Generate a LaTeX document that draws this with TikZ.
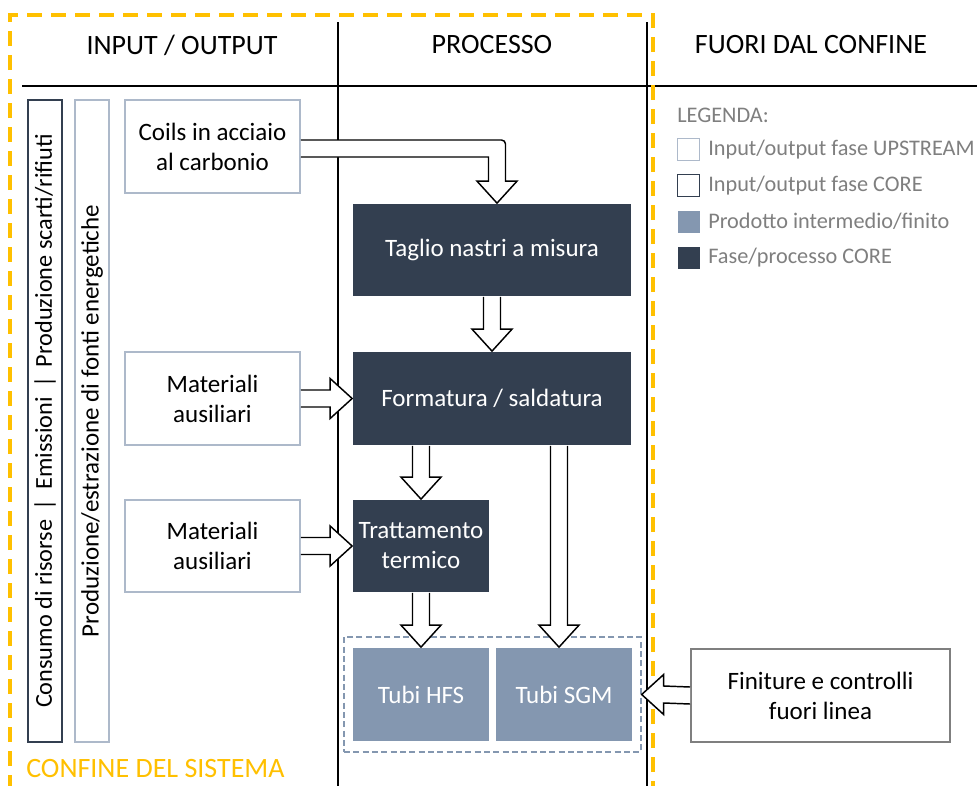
\documentclass[tikz,border=0pt]{standalone}
\usepackage{fontspec}
\setmainfont{Carlito}
\usetikzlibrary{calc}
\definecolor{navy}{HTML}{333F50}
\definecolor{steel}{HTML}{8497B0}
\definecolor{pale}{HTML}{ADB9CA}
\definecolor{gold}{HTML}{FFC000}
\definecolor{greytxt}{HTML}{7F7F7F}
\tikzset{
  wh/.style 2 args={minimum width=#1*0.75pt, minimum height=#2*0.75pt},
  basebox/.style={rectangle, inner sep=0pt, align=center, line width=1.3pt},
  upbox/.style={basebox, draw=pale, fill=white, text=black},
  corebox/.style={basebox, draw=navy, fill=white, text=black},
  procbox/.style={basebox, fill=navy, text=white},
  prodbox/.style={basebox, fill=steel, text=white},
  outbox/.style={basebox, draw=greytxt, fill=white, text=black},
  blk/.style={draw=black, fill=white, line width=1.1pt, line join=miter},
  hdr/.style={font=\fontsize{21}{25}\selectfont},
  leg/.style={font=\fontsize{16.7}{20}\selectfont, text=greytxt, anchor=west, inner sep=0pt},
  legsq/.style={rectangle, inner sep=0pt, minimum size=22*0.75pt, line width=1.3pt},
}
\newcommand\arrdown[2]{\draw[blk] ($(#1)+(-8.5,0)$) -- ($(#2)+(-8.5,-22)$) -- ($(#2)+(-20,-22)$) -- (#2) -- ($(#2)+(20,-22)$) -- ($(#2)+(8.5,-22)$) -- ($(#1)+(8.5,0)$);}
\newcommand\arrright[2]{\draw[blk] ($(#1)+(0,-8.5)$) -- ($(#2)+(-22,-8.5)$) -- ($(#2)+(-22,-20)$) -- (#2) -- ($(#2)+(-22,20)$) -- ($(#2)+(-22,8.5)$) -- ($(#1)+(0,8.5)$);}
\newcommand\arrleft[2]{\draw[blk] ($(#1)+(0,-8.5)$) -- ($(#2)+(22,-8.5)$) -- ($(#2)+(22,-20)$) -- (#2) -- ($(#2)+(22,20)$) -- ($(#2)+(22,8.5)$) -- ($(#1)+(0,8.5)$);}
\begin{document}
\begin{tikzpicture}[x=0.75pt,y=-0.75pt,font=\fontsize{18.75}{22.5}\selectfont]
\useasboundingbox[fill=white] (0,0) rectangle (977,785);

% frame lines
\draw[line width=1.3pt] (22,86) -- (977,86);
\draw[line width=1.3pt] (338,22) -- (338,790);
\draw[line width=1.3pt] (647,22) -- (647,790);
\draw[gold, line width=2.4pt, dash pattern=on 11.5pt off 6.5pt] (10,790) -- (10,15) -- (653,15) -- (653,790);

% headers
\node[hdr] (h1) at (182,45) {INPUT / OUTPUT};
\node[hdr] (h2) at (492,45) {PROCESSO};
\node[hdr] (h3) at (811,45) {FUORI DAL CONFINE};

% side bars
\node[corebox, rotate=90, wh={642}{34}, font=\fontsize{18.2}{22}\selectfont] (side1) at (45,421) {Consumo di risorse \,|\, Emissioni \,|\, Produzione scarti/rifiuti};
\node[upbox, rotate=90, wh={642}{34}] (side2) at (92,421) {Produzione/estrazione di fonti energetiche};

% input boxes
\node[upbox, wh={175}{93}] (coils) at (212.5,146.5) {Coils in acciaio\\al carbonio};
\node[upbox, wh={175}{93}] (mat1) at (212.5,398.5) {Materiali\\ausiliari};
\node[upbox, wh={175}{92}] (mat2) at (212.5,546) {Materiali\\ausiliari};

% process
\node[procbox, wh={278}{92}] (taglio) at (492,250) {Taglio nastri a misura};
\node[procbox, wh={278}{93}] (form) at (492,398.5) {Formatura / saldatura};
\node[procbox, wh={136}{92}] (tratt) at (421,546) {Trattamento\\termico};

% products
\node[rectangle, draw=steel, dash pattern=on 4.5pt off 2.5pt, line width=1pt, wh={297}{115}] (tubes) at (492.5,694.5) {};
\node[prodbox, wh={136}{93}] (hfs) at (421,694.5) {Tubi HFS};
\node[prodbox, wh={136}{93}] (sgm) at (564,694.5) {Tubi SGM};

% outside
\node[outbox, wh={259}{93}] (fin) at (820.5,695.5) {Finiture e controlli\\fuori linea};

% legend
\node[leg] (lt) at (677,115) {LEGENDA:};
\node[legsq, draw=pale, fill=white] (l1) at (688.5,149.5) {};
\node[legsq, draw=navy, fill=white] (l2) at (688.5,185.5) {};
\node[legsq, fill=steel] (l3) at (688.5,221.5) {};
\node[legsq, fill=navy] (l4) at (688.5,257.5) {};
\node[leg] at (708,149.5) {Input/output fase UPSTREAM};
\node[leg] at (708,185.5) {Input/output fase CORE};
\node[leg] at (708,221.5) {Prodotto intermedio/finito};
\node[leg] at (708,257.5) {Fase/processo CORE};

% boundary label
\node[anchor=west, inner sep=0pt, text=gold, font=\fontsize{21}{25}\selectfont] (conf) at (26,768) {CONFINE DEL SISTEMA};

% arrows
\coordinate (ctip) at ($(taglio.north)+(5,0)$);
\coordinate (cs) at ($(coils.east)+(0,2)$);
\coordinate (ccorner) at (ctip |- cs);
\draw[blk] ($(cs)+(0,-8.5)$) [rounded corners=3pt] -- ($(ccorner)+(8.5,-8.5)$) [sharp corners] -- ($(ctip)+(8.5,-22)$) -- ($(ctip)+(20,-22)$) -- (ctip) -- ($(ctip)+(-20,-22)$) -- ($(ctip)+(-8.5,-22)$) -- ($(ccorner)+(-8.5,8.5)$) -- ($(cs)+(0,8.5)$);

\arrdown{taglio.south}{form.north}
\coordinate (ft) at (tratt.north |- form.south);
\arrdown{ft}{tratt.north}
\coordinate (sgmtip) at ($(sgm.north)+(-5,0)$);
\coordinate (fs) at (sgmtip |- form.south);
\arrdown{fs}{sgmtip}
\arrdown{tratt.south}{hfs.north}
\arrright{mat1.east}{form.west}
\arrright{mat2.east}{tratt.west}
\arrleft{fin.west}{tubes.east}
\end{tikzpicture}
\end{document}
